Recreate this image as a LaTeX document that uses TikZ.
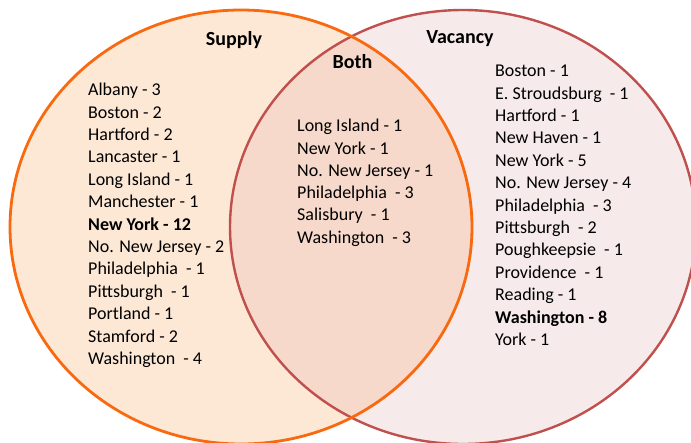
\documentclass[tikz,border=0pt]{standalone}
\usepackage{fontspec}
\setmainfont{Carlito}
\usetikzlibrary{positioning}

\definecolor{supplyfill}{HTML}{FDE8D6}
\definecolor{supplyline}{HTML}{F96A10}
\definecolor{vacancyfill}{HTML}{F6EAEA}
\definecolor{vacancyline}{HTML}{C0504D}
\definecolor{bothfill}{HTML}{F6D9CA}

\tikzset{
  entry/.style={anchor=base west, inner sep=0pt, font=\fontsize{18}{22}\selectfont},
  heading/.style={anchor=base, inner sep=0pt, font=\fontsize{20}{24}\selectfont\bfseries},
  supplyset/.style={x radius=231pt, y radius=217pt},
  vacancyset/.style={x radius=233pt, y radius=217pt},
}

\begin{document}
\begin{tikzpicture}[x=1pt, y=-1pt]
  \useasboundingbox (0,0) rectangle (691,442);
  \coordinate (S) at (241,227);
  \coordinate (V) at (463,227);
  % the two sets and their overlap
  \fill[supplyfill] (S) ellipse [supplyset];
  \fill[vacancyfill] (V) ellipse [vacancyset];
  \begin{scope}
    \clip (S) ellipse [supplyset];
    \fill[bothfill] (V) ellipse [vacancyset];
  \end{scope}
  \draw[vacancyline, line width=2.4pt] (V) ellipse [vacancyset];
  \draw[supplyline, line width=2.8pt] (S) ellipse [supplyset];
  % headings
  \node[heading] (supplyhead) at (234,45.7) {Supply};
  \node[heading] (bothhead) at (352.5,68.3) {Both};
  \node[heading] (vacancyhead) at (460,43.3) {Vacancy};
  % city lists
  \foreach \city [count=\i from 0] in {Albany - 3, Boston - 2, Hartford - 2,
      Lancaster - 1, Long Island - 1, Manchester - 1, {\textbf{New York - 12}},
      No. New Jersey - 2, Philadelphia~ - 1, Pittsburgh~ - 1, Portland - 1,
      Stamford - 2, Washington~ - 4}
    \node[entry] (supply\i) at (88,{95.7+22.4*\i}) {\city};
  \foreach \city [count=\i from 0] in {Long Island - 1, New York - 1,
      No. New Jersey - 1, Philadelphia~ - 3, Salisbury~ - 1, Washington~ - 3}
    \node[entry] (both\i) at (297,{131.7+22.3*\i}) {\city};
  \foreach \city [count=\i from 0] in {Boston - 1, E. Stroudsburg~ - 1,
      Hartford - 1, New Haven - 1, New York - 5, No. New Jersey - 4,
      Philadelphia~ - 3, Pittsburgh~ - 2, Poughkeepsie~ - 1, Providence~ - 1,
      Reading - 1, {\textbf{Washington - 8}}, York - 1}
    \node[entry] (vacancy\i) at (495,{76.7+22.4*\i}) {\city};
\end{tikzpicture}
\end{document}
